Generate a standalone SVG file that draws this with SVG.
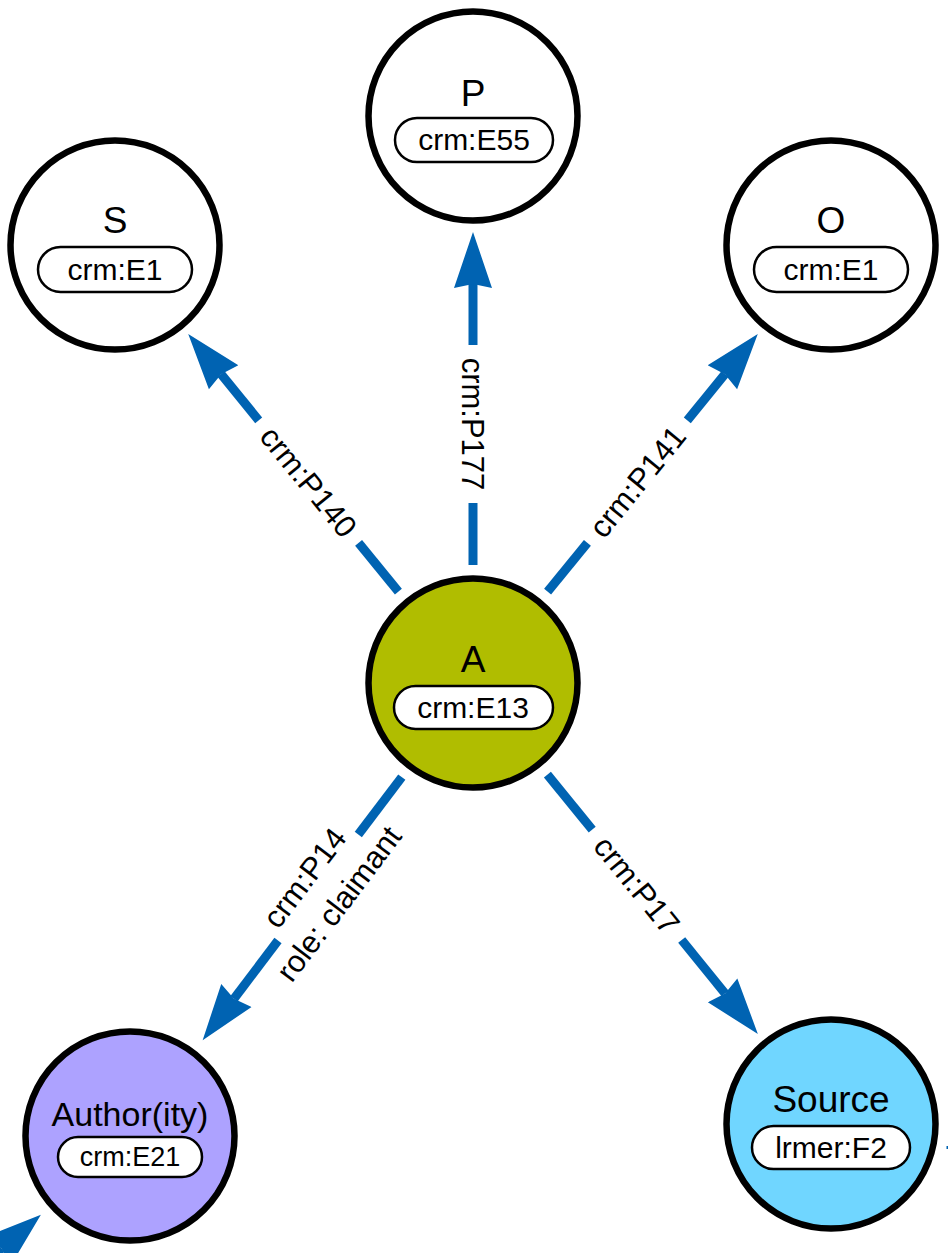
<svg xmlns="http://www.w3.org/2000/svg" width="948" height="1253" viewBox="0 0 948 1253">
<style>
.node circle{stroke:#000;stroke-width:6.5}
.pill{fill:#fff;stroke:#000;stroke-width:2.5}
.title{font-family:"Liberation Sans",Arial,Helvetica,sans-serif;font-size:37px;text-anchor:middle;fill:#000}
.cls{font-family:"Liberation Sans",Arial,Helvetica,sans-serif;font-size:30px;text-anchor:middle;fill:#000}
.edge line{stroke:#0063b2;stroke-width:9;fill:none}
.lbl{font-family:"Liberation Sans",Arial,Helvetica,sans-serif;font-size:31px;text-anchor:middle;fill:#000}
</style>
<defs>
<marker id="ah" markerUnits="userSpaceOnUse" viewBox="0 -20 58 40" markerWidth="58" markerHeight="40" refX="4" refY="0" orient="auto">
<path d="M0,-19 L56,0 L0,19 L4,0 Z" fill="#0063b2"/>
</marker>
</defs>
<g id="connectors" class="edge">
<line x1="398.4" y1="591.6" x2="358.6" y2="542.8"/>
<line x1="258.7" y1="420.3" x2="221.1" y2="374.2" marker-end="url(#ah)"/>
<text class="lbl" transform="translate(308.7,481.6) rotate(50.8)" y="11">crm:P140</text>
<line x1="473" y1="565" x2="473" y2="503"/>
<line x1="473" y1="345" x2="473" y2="284" marker-end="url(#ah)"/>
<text class="lbl" transform="translate(473,424) rotate(90)" y="11">crm:P177</text>
<line x1="547.6" y1="591.6" x2="587.4" y2="542.8"/>
<line x1="687.3" y1="420.3" x2="724.9" y2="374.2" marker-end="url(#ah)"/>
<text class="lbl" transform="translate(637.3,481.6) rotate(-50.8)" y="11">crm:P141</text>
<line x1="547.4" y1="774.6" x2="592.2" y2="829.7"/>
<line x1="681.7" y1="940.0" x2="725.1" y2="993.5" marker-end="url(#ah)"/>
<text class="lbl" transform="translate(636.9,884.8) rotate(50.9)" y="11">crm:P17</text>
<line x1="401.8" y1="777.1" x2="358.3" y2="834.5"/>
<line x1="278.0" y1="940.5" x2="234.0" y2="998.7" marker-end="url(#ah)"/>
<text class="lbl" transform="translate(317.9,887.9) rotate(-52.9)"><tspan x="0" y="-6">crm:P14</tspan><tspan x="0" y="37">role: claimant</tspan></text>
<line x1="-40" y1="1284" x2="1.4" y2="1248.5" marker-end="url(#ah)"/>
<line x1="946.5" y1="1147.5" x2="970" y2="1147.5" style="stroke-width:3"/>
</g>
<g id="node-S" class="node">
<circle cx="115" cy="245" r="104.5" fill="#fff"/>
<text class="title" x="115" y="233">S</text>
<rect class="pill" x="38" y="247" width="154" height="45" rx="22.5"/>
<text class="cls" x="115" y="280">crm:E1</text>
</g>
<g id="node-P" class="node">
<circle cx="473" cy="116" r="104.5" fill="#fff"/>
<text class="title" x="473" y="106">P</text>
<rect class="pill" x="395" y="118" width="158" height="44" rx="22"/>
<text class="cls" x="474" y="150">crm:E55</text>
</g>
<g id="node-O" class="node">
<circle cx="831" cy="245" r="104.5" fill="#fff"/>
<text class="title" x="831" y="233">O</text>
<rect class="pill" x="754" y="247" width="154" height="45" rx="22.5"/>
<text class="cls" x="831" y="280">crm:E1</text>
</g>
<g id="node-A" class="node">
<circle cx="473" cy="683" r="104.5" fill="#b0bd00"/>
<text class="title" x="473" y="672">A</text>
<rect class="pill" x="394" y="686" width="159" height="43" rx="21.5"/>
<text class="cls" x="473" y="718">crm:E13</text>
</g>
<g id="node-Author" class="node">
<circle cx="130" cy="1136" r="104.5" fill="#ada2ff"/>
<text class="title" x="130" y="1126" style="font-size:34px">Author(ity)</text>
<rect class="pill" x="58" y="1137" width="144" height="40" rx="20"/>
<text class="cls" x="130" y="1166" style="font-size:27px">crm:E21</text>
</g>
<g id="node-Source" class="node">
<circle cx="831" cy="1124" r="104.5" fill="#70d6ff"/>
<text class="title" x="831" y="1112">Source</text>
<rect class="pill" x="752" y="1126" width="158" height="43" rx="21.5"/>
<text class="cls" x="831" y="1158">lrmer:F2</text>
</g>
</svg>
